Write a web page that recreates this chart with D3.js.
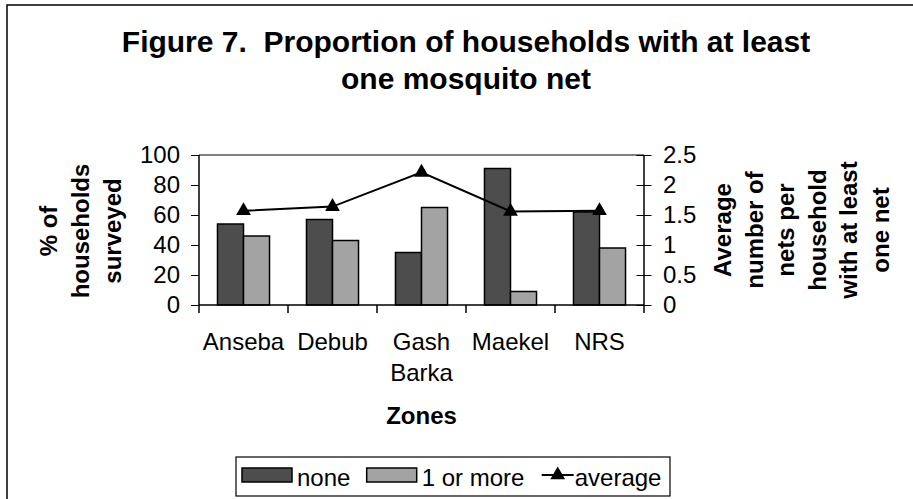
<!DOCTYPE html>
<html>
<head>
<meta charset="utf-8">
<script src="https://cdn.jsdelivr.net/npm/d3@7"></script>
<style>
  body { margin: 0; background: #fff; }
  svg { font-family: "Liberation Sans", Arial, sans-serif; }
</style>
</head>
<body>
<div id="chart"></div>
<script>
// Data
const zones = ["Anseba", "Debub", "Gash Barka", "Maekel", "NRS"];
const seriesNames = ["none", "1 or more"];
const noneValues = [54, 57, 35, 91, 62];
const oneOrMoreValues = [46, 43, 65, 9, 38];
const averageValues = [1.57, 1.64, 2.21, 1.56, 1.57];
const leftTicks = [0, 20, 40, 60, 80, 100];
const rightTicks = [0, 0.5, 1, 1.5, 2, 2.5];

const chartData = zones.map((z, i) => ({
  zone: z,
  none: noneValues[i],
  more: oneOrMoreValues[i],
  avg: averageValues[i]
}));

const W = 913, H = 499;
const plot = { left: 199, right: 644, top: 155, bottom: 305 };

const svg = d3.select("#chart").append("svg")
  .attr("width", W)
  .attr("height", H);

// chart area border (runs past the right and bottom of the picture)
svg.append("rect")
  .attr("x", 7).attr("y", 5)
  .attr("width", W + 20).attr("height", H + 20)
  .attr("fill", "#fff")
  .attr("stroke", "#000")
  .attr("stroke-width", 1.5);

// Title
const title = svg.append("text")
  .attr("text-anchor", "middle")
  .style("font-size", "30px")
  .style("font-weight", "bold");
title.append("tspan").attr("x", 466).attr("y", 52)
  .text("Figure 7.\u00a0 Proportion of households with at least");
title.append("tspan").attr("x", 466).attr("y", 89)
  .text("one mosquito net");

// Scales
const x = d3.scaleBand()
  .domain(zones)
  .range([plot.left, plot.right])
  .padding(0);

const xs = d3.scaleBand()
  .domain(seriesNames)
  .range([0, x.bandwidth()])
  .paddingInner(0)
  .paddingOuter(0.71);

const y = d3.scaleLinear().domain([0, 100]).range([plot.bottom, plot.top]);
const y2 = d3.scaleLinear().domain([0, 2.5]).range([plot.bottom, plot.top]);

const color = d3.scaleOrdinal()
  .domain(seriesNames)
  .range(["#4d4d4d", "#a3a3a3"]);

// top gridline at 100
svg.append("line")
  .attr("x1", plot.left).attr("x2", plot.right)
  .attr("y1", y(100)).attr("y2", y(100))
  .attr("stroke", "#808080")
  .attr("stroke-width", 2);

// Bars
const groups = svg.selectAll("g.zone")
  .data(chartData)
  .join("g")
  .attr("class", "zone")
  .attr("transform", d => `translate(${x(d.zone)},0)`);

groups.selectAll("rect")
  .data(d => [{ key: "none", value: d.none }, { key: "1 or more", value: d.more }])
  .join("rect")
  .attr("x", d => xs(d.key))
  .attr("y", d => y(d.value))
  .attr("width", xs.bandwidth())
  .attr("height", d => y(0) - y(d.value))
  .attr("fill", d => color(d.key))
  .attr("stroke", "#000")
  .attr("stroke-width", 1.5);

// Left axis
const leftAxis = svg.append("g")
  .attr("transform", `translate(${plot.left},0)`)
  .call(d3.axisLeft(y).tickValues(leftTicks).tickSize(8).tickPadding(11).tickSizeOuter(0));
leftAxis.selectAll("text").style("font-size", "24px").attr("fill", "#000");
leftAxis.select(".domain").remove();

// Right axis with crossing ticks
const rightAxis = svg.append("g")
  .attr("transform", `translate(${plot.right},0)`)
  .call(d3.axisRight(y2).tickValues(rightTicks).tickSize(7.5).tickPadding(11.5).tickSizeOuter(0)
    .tickFormat(d3.format("")));
rightAxis.selectAll("text").style("font-size", "24px").attr("fill", "#000");
rightAxis.selectAll(".tick line").attr("x1", -7.5);
rightAxis.select(".domain").remove();

// axis lines
svg.append("line")
  .attr("x1", plot.left).attr("x2", plot.left)
  .attr("y1", plot.top).attr("y2", plot.bottom + 8)
  .attr("stroke", "#000").attr("stroke-width", 1.5);
svg.append("line")
  .attr("x1", plot.right).attr("x2", plot.right)
  .attr("y1", plot.top).attr("y2", plot.bottom + 8)
  .attr("stroke", "#000").attr("stroke-width", 1.5);
svg.append("line")
  .attr("x1", plot.left).attr("x2", plot.right)
  .attr("y1", plot.bottom).attr("y2", plot.bottom)
  .attr("stroke", "#000").attr("stroke-width", 1.5);

// category boundary ticks
svg.selectAll("line.cat-tick")
  .data(zones.slice(1))
  .join("line")
  .attr("class", "cat-tick")
  .attr("x1", d => x(d)).attr("x2", d => x(d))
  .attr("y1", plot.bottom).attr("y2", plot.bottom + 8)
  .attr("stroke", "#000").attr("stroke-width", 1.5);

// category labels
const catLabels = svg.selectAll("text.cat")
  .data(zones)
  .join("text")
  .attr("class", "cat")
  .attr("text-anchor", "middle")
  .style("font-size", "24px");
catLabels.each(function(d) {
  const words = d.split(" ");
  const t = d3.select(this);
  words.forEach((w, i) => {
    t.append("tspan")
      .attr("x", x(d) + x.bandwidth() / 2)
      .attr("y", 350 + i * 31)
      .text(w);
  });
});

// Average line
const line = d3.line()
  .x(d => x(d.zone) + x.bandwidth() / 2)
  .y(d => y2(d.avg));

svg.append("path")
  .datum(chartData)
  .attr("d", line)
  .attr("fill", "none")
  .attr("stroke", "#000")
  .attr("stroke-width", 2);

const tri = d3.symbol().type(d3.symbolTriangle).size(95);
svg.selectAll("path.marker")
  .data(chartData)
  .join("path")
  .attr("class", "marker")
  .attr("d", tri)
  .attr("transform", d => `translate(${x(d.zone) + x.bandwidth() / 2},${y2(d.avg)})`)
  .attr("fill", "#000");

// Axis titles
svg.append("text")
  .attr("x", (plot.left + plot.right) / 2)
  .attr("y", 424)
  .attr("text-anchor", "middle")
  .style("font-size", "24px")
  .style("font-weight", "bold")
  .text("Zones");

const leftTitle = svg.append("text")
  .attr("transform", "rotate(-90)")
  .attr("text-anchor", "middle")
  .style("font-size", "24px")
  .style("font-weight", "bold");
["% of", "households", "surveyed"].forEach((t, i) => {
  leftTitle.append("tspan").attr("x", -231).attr("y", 57 + i * 32).text(t);
});

const rightTitle = svg.append("text")
  .attr("transform", "rotate(-90)")
  .attr("text-anchor", "middle")
  .style("font-size", "24px")
  .style("font-weight", "bold");
["Average", "number of", "nets per", "household", "with at least", "one net"].forEach((t, i) => {
  rightTitle.append("tspan").attr("x", -230).attr("y", 731 + i * 31.6).text(t);
});

// Legend
const legend = svg.append("g");
legend.append("rect")
  .attr("x", 236).attr("y", 457)
  .attr("width", 434).attr("height", 39)
  .attr("fill", "#fff")
  .attr("stroke", "#000")
  .attr("stroke-width", 1.2);

const legendItems = [
  { name: "none", kind: "bar", x: 242 },
  { name: "1 or more", kind: "bar", x: 366.7 },
  { name: "average", kind: "line", x: 541.7 }
];
legendItems.forEach(item => {
  if (item.kind === "bar") {
    legend.append("rect")
      .attr("x", item.x).attr("y", 468)
      .attr("width", 50).attr("height", 14)
      .attr("fill", color(item.name))
      .attr("stroke", "#000").attr("stroke-width", 1.5);
    legend.append("text")
      .attr("x", item.x + 55).attr("y", 486)
      .style("font-size", "24px")
      .text(item.name);
  } else {
    legend.append("line")
      .attr("x1", item.x).attr("x2", item.x + 32)
      .attr("y1", 475).attr("y2", 475)
      .attr("stroke", "#000").attr("stroke-width", 2);
    legend.append("path")
      .attr("d", tri)
      .attr("transform", `translate(${item.x + 16},475)`)
      .attr("fill", "#000");
    legend.append("text")
      .attr("x", item.x + 33).attr("y", 486)
      .style("font-size", "24px")
      .text(item.name);
  }
});
</script>
</body>
</html>
